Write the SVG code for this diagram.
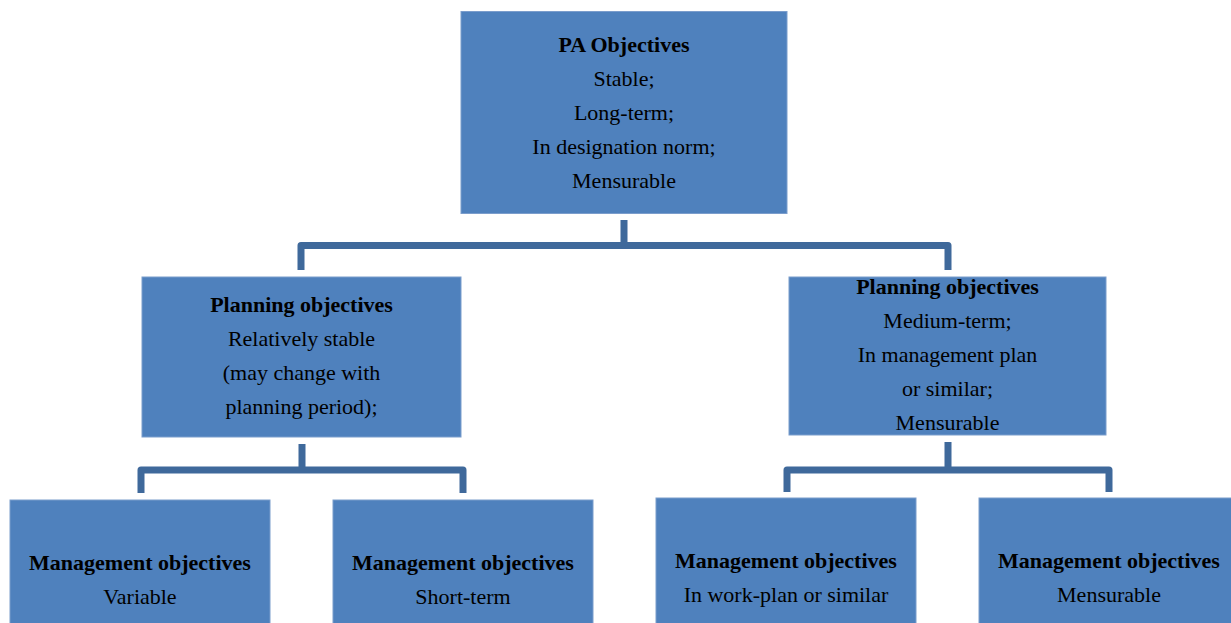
<svg xmlns="http://www.w3.org/2000/svg" width="1231" height="623" viewBox="0 0 1231 623">
<style>
.box{fill:#4F81BD;stroke:#7B9DCC;stroke-width:1}
.conn{fill:none;stroke:#3F699B;stroke-width:7;stroke-linejoin:round}
text{font-family:"Liberation Serif","Times New Roman",serif;font-size:22px;fill:#000;text-anchor:middle}
.b{font-weight:bold}
</style>
<rect width="1231" height="623" fill="#ffffff"/>
<g id="connectors">
<path class="conn" d="M624 220 V245.5 M301 270 V245.5 H948 V270"/>
<path class="conn" d="M302 444 V470 M141 493 V470 H463 V493"/>
<path class="conn" d="M948 442 V470 M787 492 V470 H1109 V492"/>
</g>
<g id="pa">
<rect class="box" x="461" y="11.5" width="326" height="202"/>
<text class="b" x="624" y="52">PA Objectives</text>
<text x="624" y="86">Stable;</text>
<text x="624" y="120">Long-term;</text>
<text x="624" y="154">In designation norm;</text>
<text x="624" y="188">Mensurable</text>
</g>
<g id="plan-left">
<rect class="box" x="142" y="277" width="319" height="160"/>
<text class="b" x="301.5" y="312">Planning objectives</text>
<text x="301.5" y="346">Relatively stable</text>
<text x="301.5" y="380">(may change with</text>
<text x="301.5" y="414">planning period);</text>
</g>
<g id="plan-right">
<rect class="box" x="789" y="277" width="317" height="158"/>
<text class="b" x="947.5" y="294">Planning objectives</text>
<text x="947.5" y="328">Medium-term;</text>
<text x="947.5" y="362">In management plan</text>
<text x="947.5" y="396">or similar;</text>
<text x="947.5" y="430">Mensurable</text>
</g>
<g id="mgmt-1">
<rect class="box" x="10" y="500" width="260" height="130"/>
<text class="b" x="140" y="570">Management objectives</text>
<text x="140" y="604">Variable</text>
</g>
<g id="mgmt-2">
<rect class="box" x="333" y="500" width="260" height="130"/>
<text class="b" x="463" y="570">Management objectives</text>
<text x="463" y="604">Short-term</text>
</g>
<g id="mgmt-3">
<rect class="box" x="656" y="498" width="260" height="132"/>
<text class="b" x="786" y="568">Management objectives</text>
<text x="786" y="602">In work-plan or similar</text>
</g>
<g id="mgmt-4">
<rect class="box" x="979" y="498" width="260" height="132"/>
<text class="b" x="1109" y="568">Management objectives</text>
<text x="1109" y="602">Mensurable</text>
</g>
</svg>
